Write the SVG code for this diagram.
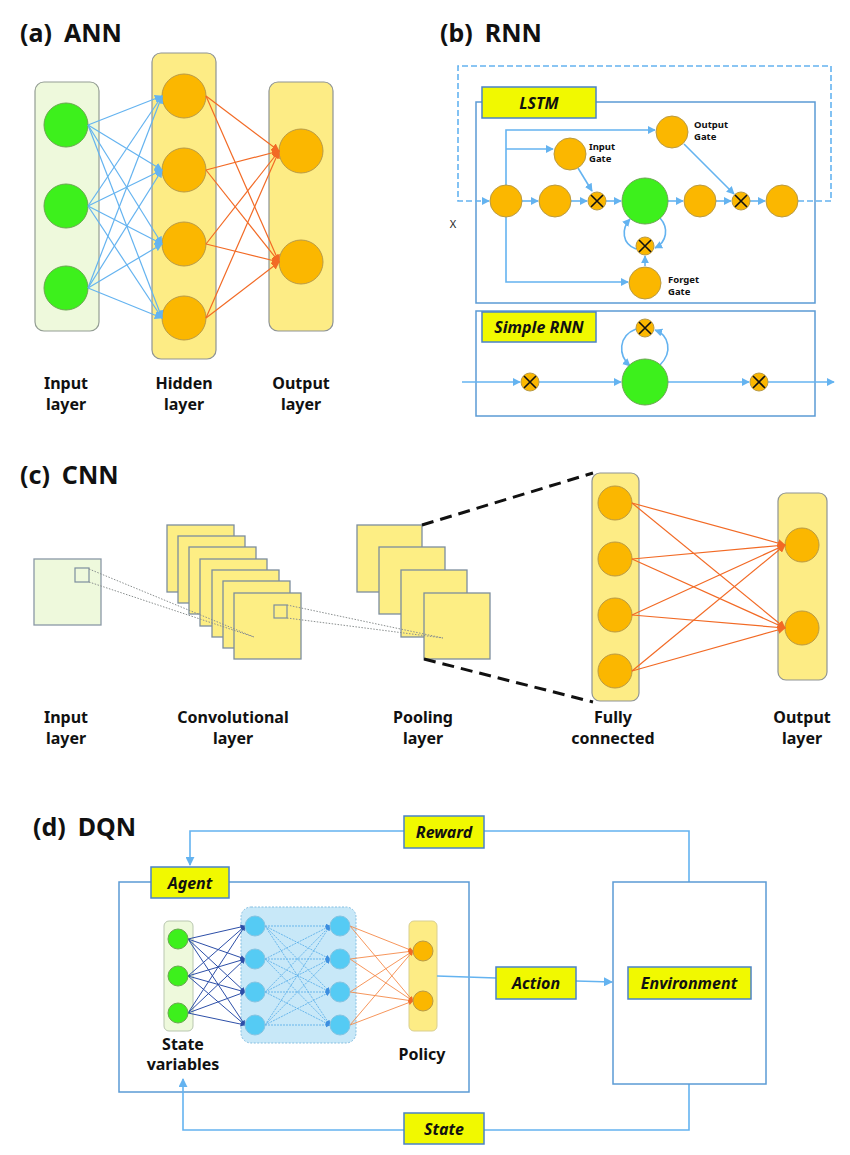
<svg xmlns="http://www.w3.org/2000/svg" width="850" height="1155" viewBox="0 0 850 1155">
<defs>
<style>
.t{font-family:"Noto Sans","Open Sans","Liberation Sans",sans-serif;font-weight:bold;fill:#111}
.title{font-size:25px}
.lab{font-size:16px;text-anchor:middle}
.gl{font-size:9.5px}
.tag{font-size:16px;font-style:italic;text-anchor:middle}
.box{fill:#eef9dc;stroke:#939d93;stroke-width:1.2}
.ybox{fill:#fdec85;stroke:#8f9494;stroke-width:1.2}
.org{fill:#fbb700;stroke:#b99a45;stroke-width:1}
.grn{fill:#3df01c;stroke:#6aa750;stroke-width:1}
.cyan{fill:#55cbf4;stroke:#84c4e2;stroke-width:1}
.yl{fill:#f1f900;stroke:#4a82c8;stroke-width:1.5}
.frame{fill:none;stroke:#5b9bd5;stroke-width:1.5}
.bl{fill:none;stroke:#64b3f0;stroke-width:1.2}
.bl2{fill:none;stroke:#64b3f0;stroke-width:1.6}
.or{fill:none;stroke:#f26a25;stroke-width:1.2}
.db{fill:none;stroke:#2d4fa8;stroke-width:1}
.lb{fill:none;stroke:#5fb1ea;stroke-width:0.9;stroke-dasharray:2 1}
.or2{fill:none;stroke:#f58a4a;stroke-width:0.9}
.mul{fill:#fbb700;stroke:#b99a45;stroke-width:1}
.xx{stroke:#111;stroke-width:1.6}
.sq{fill:#fdee84;stroke:#7d8e9e;stroke-width:1.3}
.dot{fill:none;stroke:#8a8f8f;stroke-width:1;stroke-dasharray:1.5 1.5}
.bd{fill:none;stroke:#111;stroke-width:3;stroke-dasharray:12 7}
</style>
<marker id="ab" viewBox="0 0 10 10" refX="9" refY="5" markerWidth="8" markerHeight="8" markerUnits="userSpaceOnUse" orient="auto"><path d="M0,0 L10,5 L0,10 z" fill="#64b3f0"/></marker>
<marker id="ao" viewBox="0 0 10 10" refX="9" refY="5" markerWidth="8" markerHeight="8" markerUnits="userSpaceOnUse" orient="auto"><path d="M0,0 L10,5 L0,10 z" fill="#f26a25"/></marker>
<marker id="ad" viewBox="0 0 10 10" refX="9" refY="5" markerWidth="5" markerHeight="5" markerUnits="userSpaceOnUse" orient="auto"><path d="M0,0 L10,5 L0,10 z" fill="#2d4fa8"/></marker>
<marker id="al" viewBox="0 0 10 10" refX="9" refY="5" markerWidth="5" markerHeight="5" markerUnits="userSpaceOnUse" orient="auto"><path d="M0,0 L10,5 L0,10 z" fill="#3d8ee0"/></marker>
<marker id="ao2" viewBox="0 0 10 10" refX="9" refY="5" markerWidth="5" markerHeight="5" markerUnits="userSpaceOnUse" orient="auto"><path d="M0,0 L10,5 L0,10 z" fill="#f26a25"/></marker>
<marker id="ab2" viewBox="0 0 10 10" refX="9" refY="5" markerWidth="9" markerHeight="9" markerUnits="userSpaceOnUse" orient="auto"><path d="M0,0 L10,5 L0,10 z" fill="#64b3f0"/></marker>
</defs>
<rect width="850" height="1155" fill="#fff"/>

<!-- ===== (a) ANN ===== -->
<text class="t title" x="20" y="42">(a)<tspan dx="12">ANN</tspan></text>
<g id="ann-input"><rect class="box" x="35" y="82" width="64" height="249" rx="9"/>
<circle class="grn" cx="66" cy="125" r="22"/><circle class="grn" cx="66" cy="206" r="22"/><circle class="grn" cx="66" cy="288" r="22"/></g>
<g id="ann-hidden"><rect class="ybox" x="152" y="53" width="64" height="306" rx="9"/>
<circle class="org" cx="184" cy="96" r="22"/><circle class="org" cx="184" cy="170" r="22"/><circle class="org" cx="184" cy="244" r="22"/><circle class="org" cx="184" cy="318" r="22"/></g>
<g id="ann-output"><rect class="ybox" x="269" y="82" width="64" height="249" rx="9"/>
<circle class="org" cx="301" cy="151" r="22"/><circle class="org" cx="301" cy="262" r="22"/></g>
<g id="ann-connectors">
<path class="bl" marker-end="url(#ab)" d="M88,125 L162,96"/><path class="bl" marker-end="url(#ab)" d="M88,125 L162,170"/><path class="bl" marker-end="url(#ab)" d="M88,125 L162,244"/><path class="bl" marker-end="url(#ab)" d="M88,125 L162,318"/>
<path class="bl" marker-end="url(#ab)" d="M88,206 L162,96"/><path class="bl" marker-end="url(#ab)" d="M88,206 L162,170"/><path class="bl" marker-end="url(#ab)" d="M88,206 L162,244"/><path class="bl" marker-end="url(#ab)" d="M88,206 L162,318"/>
<path class="bl" marker-end="url(#ab)" d="M88,288 L162,96"/><path class="bl" marker-end="url(#ab)" d="M88,288 L162,170"/><path class="bl" marker-end="url(#ab)" d="M88,288 L162,244"/><path class="bl" marker-end="url(#ab)" d="M88,288 L162,318"/>
<path class="or" marker-end="url(#ao)" d="M206,96 L279,151"/><path class="or" marker-end="url(#ao)" d="M206,96 L279,262"/>
<path class="or" marker-end="url(#ao)" d="M206,170 L279,151"/><path class="or" marker-end="url(#ao)" d="M206,170 L279,262"/>
<path class="or" marker-end="url(#ao)" d="M206,244 L279,151"/><path class="or" marker-end="url(#ao)" d="M206,244 L279,262"/>
<path class="or" marker-end="url(#ao)" d="M206,318 L279,151"/><path class="or" marker-end="url(#ao)" d="M206,318 L279,262"/>
</g>
<text class="t lab" x="66" y="389">Input<tspan x="66" dy="21">layer</tspan></text>
<text class="t lab" x="184" y="389">Hidden<tspan x="184" dy="21">layer</tspan></text>
<text class="t lab" x="301" y="389">Output<tspan x="301" dy="21">layer</tspan></text>

<!-- ===== (b) RNN ===== -->
<text class="t title" x="440" y="42">(b)<tspan dx="12">RNN</tspan></text>
<g id="lstm-frame"><rect class="frame" x="476" y="102" width="339" height="201"/>
<rect class="yl" x="482" y="87" width="114" height="31"/><text class="t tag" x="539" y="109">LSTM</text></g>
<g id="rnn-frame"><rect class="frame" x="476" y="311" width="339" height="105"/>
<rect class="yl" x="482" y="312" width="114" height="30"/><text class="t tag" x="539" y="333">Simple RNN</text></g>
<g id="rnn-connectors">
<path class="bl2" stroke-dasharray="6 3" marker-end="url(#ab)" d="M798,201 H831 V66 H458 V201 H489"/>
<path class="bl2" marker-end="url(#ab)" d="M522,201 H538"/>
<path class="bl2" marker-end="url(#ab)" d="M571,201 H587"/>
<path class="bl2" marker-end="url(#ab)" d="M606,201 H621"/>
<path class="bl2" marker-end="url(#ab)" d="M668,201 H683"/>
<path class="bl2" marker-end="url(#ab)" d="M716,201 H731"/>
<path class="bl2" marker-end="url(#ab)" d="M750,201 H765"/>
<path class="bl2" marker-end="url(#ab)" d="M506,185 V130 H655"/>
<path class="bl2" marker-end="url(#ab)" d="M506,149 H553"/>
<path class="bl2" marker-end="url(#ab)" d="M506,217 V282 H628"/>
<path class="bl2" marker-end="url(#ab)" d="M578,168 L592,191"/>
<path class="bl2" marker-end="url(#ab)" d="M684,144 L734,194"/>
<path class="bl2" marker-end="url(#ab)" d="M645,266 V256"/>
<path class="bl2" marker-end="url(#ab)" d="M636,249 C622,244 621,229 630,219"/>
<path class="bl2" marker-end="url(#ab)" d="M660,218 C669,228 667,242 655,248"/>
<path class="bl2" marker-end="url(#ab)" d="M462,382 H520"/>
<path class="bl2" marker-end="url(#ab)" d="M539,382 H621"/>
<path class="bl2" marker-end="url(#ab)" d="M668,382 H749"/>
<path class="bl2" marker-end="url(#ab)" d="M768,382 H834"/>
<path class="bl2" marker-end="url(#ab)" d="M636,329 C618,336 618,355 630,366"/>
<path class="bl2" marker-end="url(#ab)" d="M660,365 C673,352 669,335 655,330"/>
</g>
<g id="lstm-nodes">
<circle class="org" cx="506" cy="201" r="16"/>
<circle class="org" cx="555" cy="201" r="16"/>
<g><circle class="mul" cx="597" cy="201" r="9"/><path class="xx" d="M591,195 L603,207 M603,195 L591,207"/></g>
<circle class="grn" cx="645" cy="201" r="23"/>
<circle class="org" cx="700" cy="201" r="16"/>
<g><circle class="mul" cx="741" cy="201" r="9"/><path class="xx" d="M735,195 L747,207 M747,195 L735,207"/></g>
<circle class="org" cx="782" cy="201" r="16"/>
<circle class="org" cx="570" cy="154" r="16"/>
<circle class="org" cx="672" cy="132" r="16"/>
<circle class="org" cx="645" cy="283" r="16"/>
<g><circle class="mul" cx="645" cy="246" r="9"/><path class="xx" d="M639,240 L651,252 M651,240 L639,252"/></g>
<text class="t gl" x="589" y="150">Input<tspan x="589" dy="12">Gate</tspan></text>
<text class="t gl" x="694" y="128">Output<tspan x="694" dy="12">Gate</tspan></text>
<text class="t gl" x="668" y="283">Forget<tspan x="668" dy="12">Gate</tspan></text>
<text x="453" y="228" font-family="Noto Sans, sans-serif" font-size="11" fill="#222" text-anchor="middle">X</text>
</g>
<g id="rnn-nodes">
<g><circle class="mul" cx="530" cy="382" r="9"/><path class="xx" d="M524,376 L536,388 M536,376 L524,388"/></g>
<circle class="grn" cx="645" cy="382" r="23"/>
<g><circle class="mul" cx="759" cy="382" r="9"/><path class="xx" d="M753,376 L765,388 M765,376 L753,388"/></g>
<g><circle class="mul" cx="645" cy="328" r="9"/><path class="xx" d="M639,322 L651,334 M651,322 L639,334"/></g>
</g>

<!-- ===== (c) CNN ===== -->
<text class="t title" x="20" y="484">(c)<tspan dx="12">CNN</tspan></text>
<g id="cnn-input"><rect x="34" y="559" width="67" height="66" fill="#eef9dc" stroke="#8a98a6" stroke-width="1.3"/>
<rect x="75" y="568" width="14" height="14" fill="none" stroke="#7d8e9e" stroke-width="1.2"/></g>
<g id="cnn-conv">
<rect class="sq" x="167" y="525" width="67" height="67"/>
<rect class="sq" x="178" y="536" width="67" height="67"/>
<rect class="sq" x="189" y="547" width="67" height="67"/>
<rect class="sq" x="200" y="559" width="67" height="67"/>
<rect class="sq" x="212" y="570" width="67" height="67"/>
<rect class="sq" x="223" y="581" width="67" height="67"/>
<rect class="sq" x="234" y="593" width="67" height="66"/>
<rect x="274" y="605" width="13" height="13" fill="none" stroke="#7d8e9e" stroke-width="1.2"/>
</g>
<g id="cnn-pool">
<rect class="sq" x="357" y="525" width="65" height="67"/>
<rect class="sq" x="379" y="547" width="66" height="67"/>
<rect class="sq" x="401" y="570" width="66" height="67"/>
<rect class="sq" x="424" y="593" width="66" height="66"/>
</g>
<g id="cnn-fc"><rect class="ybox" x="592" y="473" width="47" height="228" rx="8"/>
<circle class="org" cx="615" cy="503" r="17"/><circle class="org" cx="615" cy="559" r="17"/><circle class="org" cx="615" cy="615" r="17"/><circle class="org" cx="615" cy="671" r="17"/></g>
<g id="cnn-out"><rect class="ybox" x="778" y="493" width="49" height="187" rx="8"/>
<circle class="org" cx="802" cy="545" r="17"/><circle class="org" cx="802" cy="628" r="17"/></g>
<g id="cnn-connectors">
<path class="dot" d="M89,569 L254,637 M89,582 L254,637"/>
<path class="dot" d="M287,605 L443,638 M287,618 L443,638"/>
<path class="bd" d="M422,525 L593,473"/>
<path class="bd" d="M424,659 L593,702"/>
<path class="or" marker-end="url(#ao)" d="M632,503 L785,545"/><path class="or" marker-end="url(#ao)" d="M632,503 L785,628"/>
<path class="or" marker-end="url(#ao)" d="M632,559 L785,545"/><path class="or" marker-end="url(#ao)" d="M632,559 L785,628"/>
<path class="or" marker-end="url(#ao)" d="M632,615 L785,545"/><path class="or" marker-end="url(#ao)" d="M632,615 L785,628"/>
<path class="or" marker-end="url(#ao)" d="M632,671 L785,545"/><path class="or" marker-end="url(#ao)" d="M632,671 L785,628"/>
</g>
<text class="t lab" x="66" y="723">Input<tspan x="66" dy="21">layer</tspan></text>
<text class="t lab" x="233" y="723">Convolutional<tspan x="233" dy="21">layer</tspan></text>
<text class="t lab" x="423" y="723">Pooling<tspan x="423" dy="21">layer</tspan></text>
<text class="t lab" x="613" y="723">Fully<tspan x="613" dy="21">connected</tspan></text>
<text class="t lab" x="802" y="723">Output<tspan x="802" dy="21">layer</tspan></text>

<!-- ===== (d) DQN ===== -->
<text class="t title" x="33" y="836">(d)<tspan dx="12">DQN</tspan></text>
<g id="dqn-agent">
<rect class="frame" x="119" y="882" width="350" height="210"/>
<rect class="yl" x="151" y="867" width="78" height="31"/><text class="t tag" x="190" y="889">Agent</text>
<rect x="164" y="921" width="29" height="110" rx="5" fill="#eef9dc" stroke="#b9c7b0" stroke-width="1"/>
<rect x="241" y="907" width="115" height="136" rx="10" fill="#c8e8f8" stroke="#84bfe2" stroke-width="1" stroke-dasharray="2 1.5"/>
<rect x="409" y="921" width="28" height="110" rx="5" fill="#fdec85" stroke="#d9cf90" stroke-width="1"/>
</g>
<g id="dqn-connectors">
<g class="db" marker-end="url(#ad)">
<path d="M188,939 L245,926"/><path d="M188,939 L245,959"/><path d="M188,939 L245,992"/><path d="M188,939 L245,1025"/>
<path d="M188,976 L245,926"/><path d="M188,976 L245,959"/><path d="M188,976 L245,992"/><path d="M188,976 L245,1025"/>
<path d="M188,1013 L245,926"/><path d="M188,1013 L245,959"/><path d="M188,1013 L245,992"/><path d="M188,1013 L245,1025"/>
</g>
<g class="lb" marker-end="url(#al)">
<path d="M265,926 L330,926"/><path d="M265,926 L330,959"/><path d="M265,926 L330,992"/><path d="M265,926 L330,1025"/>
<path d="M265,959 L330,926"/><path d="M265,959 L330,959"/><path d="M265,959 L330,992"/><path d="M265,959 L330,1025"/>
<path d="M265,992 L330,926"/><path d="M265,992 L330,959"/><path d="M265,992 L330,992"/><path d="M265,992 L330,1025"/>
<path d="M265,1025 L330,926"/><path d="M265,1025 L330,959"/><path d="M265,1025 L330,992"/><path d="M265,1025 L330,1025"/>
</g>
<g class="or2" marker-end="url(#ao2)">
<path d="M350,926 L413,951"/><path d="M350,926 L413,1001"/>
<path d="M350,959 L413,951"/><path d="M350,959 L413,1001"/>
<path d="M350,992 L413,951"/><path d="M350,992 L413,1001"/>
<path d="M350,1025 L413,951"/><path d="M350,1025 L413,1001"/>
</g>
<path class="bl2" marker-end="url(#ab2)" d="M689,882 V831 H190 V865"/>
<path class="bl2" marker-end="url(#ab2)" d="M689,1084 V1130 H183 V1079"/>
<path class="bl2" d="M437,976 L496,978"/>
<path class="bl2" marker-end="url(#ab2)" d="M576,981 L612,982"/>
</g>
<g id="dqn-nodes">
<circle class="grn" cx="178" cy="939" r="10"/><circle class="grn" cx="178" cy="976" r="10"/><circle class="grn" cx="178" cy="1013" r="10"/>
<circle class="cyan" cx="255" cy="926" r="10"/><circle class="cyan" cx="255" cy="959" r="10"/><circle class="cyan" cx="255" cy="992" r="10"/><circle class="cyan" cx="255" cy="1025" r="10"/>
<circle class="cyan" cx="340" cy="926" r="10"/><circle class="cyan" cx="340" cy="959" r="10"/><circle class="cyan" cx="340" cy="992" r="10"/><circle class="cyan" cx="340" cy="1025" r="10"/>
<circle class="org" cx="423" cy="951" r="10"/><circle class="org" cx="423" cy="1001" r="10"/>
</g>
<text class="t lab" x="183" y="1050">State<tspan x="183" dy="20">variables</tspan></text>
<text class="t lab" x="422" y="1060">Policy</text>
<g id="dqn-env"><rect class="frame" x="613" y="882" width="153" height="202"/>
<rect class="yl" x="628" y="967" width="123" height="32"/><text class="t tag" x="689" y="989">Environment</text></g>
<g id="dqn-reward"><rect class="yl" x="404" y="816" width="80" height="32"/><text class="t tag" x="444" y="838">Reward</text></g>
<g id="dqn-action"><rect class="yl" x="496" y="967" width="80" height="32"/><text class="t tag" x="536" y="989">Action</text></g>
<g id="dqn-state"><rect class="yl" x="404" y="1113" width="80" height="31"/><text class="t tag" x="444" y="1135">State</text></g>
</svg>
